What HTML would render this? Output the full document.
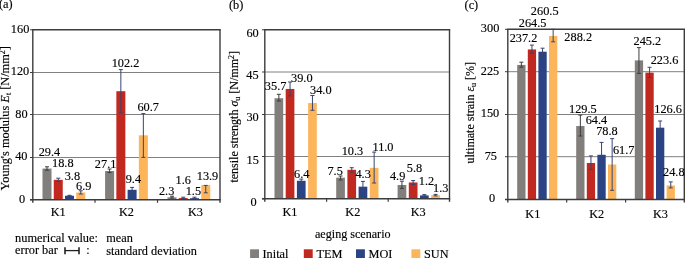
<!DOCTYPE html>
<html><head><meta charset="utf-8"><style>
html,body{margin:0;padding:0;background:#fff;}
svg{display:block;}
text{font-family:"Liberation Serif",serif;fill:#000;stroke:#000;stroke-width:0.15px;}
</style></head><body>
<svg width="685" height="258" viewBox="0 0 685 258" style="will-change:transform">
<line x1="32.8" y1="157.5" x2="220.0" y2="157.5" stroke="#808080" stroke-width="1.0"/>
<line x1="32.8" y1="114.5" x2="220.0" y2="114.5" stroke="#808080" stroke-width="1.0"/>
<line x1="32.8" y1="72.5" x2="220.0" y2="72.5" stroke="#808080" stroke-width="1.0"/>
<rect x="42.5" y="168.56" width="9.0" height="31.24" fill="#827e7b"/>
<rect x="53.75" y="179.83" width="9.0" height="19.97" fill="#c1281f"/>
<rect x="65.0" y="195.76" width="9.0" height="4.04" fill="#2a4384"/>
<rect x="76.25" y="192.47" width="9.0" height="7.33" fill="#fdb55b"/>
<rect x="105.1" y="171.01" width="9.0" height="28.79" fill="#827e7b"/>
<rect x="116.35" y="91.21" width="9.0" height="108.59" fill="#c1281f"/>
<rect x="127.6" y="189.81" width="9.0" height="9.99" fill="#2a4384"/>
<rect x="138.85" y="135.31" width="9.0" height="64.49" fill="#fdb55b"/>
<rect x="167.5" y="197.36" width="9.0" height="2.44" fill="#827e7b"/>
<rect x="178.75" y="198.10" width="9.0" height="1.70" fill="#c1281f"/>
<rect x="190.0" y="198.21" width="9.0" height="1.59" fill="#2a4384"/>
<rect x="201.25" y="185.03" width="9.0" height="14.77" fill="#fdb55b"/>
<line x1="47.0" y1="166.8" x2="47.0" y2="170.2" stroke="#3e3e3e" stroke-width="1.0"/>
<line x1="45.0" y1="166.8" x2="49.0" y2="166.8" stroke="#3e3e3e" stroke-width="1.0"/>
<line x1="45.0" y1="170.2" x2="49.0" y2="170.2" stroke="#3e3e3e" stroke-width="1.0"/>
<line x1="58.25" y1="178.2" x2="58.25" y2="181.4" stroke="#3a4470" stroke-width="1.0"/>
<line x1="56.25" y1="178.2" x2="60.25" y2="178.2" stroke="#3a4470" stroke-width="1.0"/>
<line x1="56.25" y1="181.4" x2="60.25" y2="181.4" stroke="#3a4470" stroke-width="1.0"/>
<line x1="69.5" y1="195.3" x2="69.5" y2="196.0" stroke="#3a4470" stroke-width="1.0"/>
<line x1="67.5" y1="195.3" x2="71.5" y2="195.3" stroke="#3a4470" stroke-width="1.0"/>
<line x1="67.5" y1="196.0" x2="71.5" y2="196.0" stroke="#3a4470" stroke-width="1.0"/>
<line x1="80.75" y1="190.8" x2="80.75" y2="194.0" stroke="#3a4470" stroke-width="1.0"/>
<line x1="78.75" y1="190.8" x2="82.75" y2="190.8" stroke="#3a4470" stroke-width="1.0"/>
<line x1="78.75" y1="194.0" x2="82.75" y2="194.0" stroke="#3a4470" stroke-width="1.0"/>
<line x1="109.6" y1="169.0" x2="109.6" y2="172.6" stroke="#3e3e3e" stroke-width="1.0"/>
<line x1="107.6" y1="169.0" x2="111.6" y2="169.0" stroke="#3e3e3e" stroke-width="1.0"/>
<line x1="107.6" y1="172.6" x2="111.6" y2="172.6" stroke="#3e3e3e" stroke-width="1.0"/>
<line x1="120.85" y1="69.6" x2="120.85" y2="113.0" stroke="#3a4470" stroke-width="1.0"/>
<line x1="118.85" y1="69.6" x2="122.85" y2="69.6" stroke="#3a4470" stroke-width="1.0"/>
<line x1="118.85" y1="113.0" x2="122.85" y2="113.0" stroke="#3a4470" stroke-width="1.0"/>
<line x1="132.1" y1="187.4" x2="132.1" y2="192.6" stroke="#3a4470" stroke-width="1.0"/>
<line x1="130.1" y1="187.4" x2="134.1" y2="187.4" stroke="#3a4470" stroke-width="1.0"/>
<line x1="130.1" y1="192.6" x2="134.1" y2="192.6" stroke="#3a4470" stroke-width="1.0"/>
<line x1="143.35" y1="113.6" x2="143.35" y2="157.4" stroke="#3a4470" stroke-width="1.0"/>
<line x1="141.35" y1="113.6" x2="145.35" y2="113.6" stroke="#3a4470" stroke-width="1.0"/>
<line x1="141.35" y1="157.4" x2="145.35" y2="157.4" stroke="#3a4470" stroke-width="1.0"/>
<line x1="172.0" y1="196.2" x2="172.0" y2="198.0" stroke="#3e3e3e" stroke-width="1.0"/>
<line x1="170.0" y1="196.2" x2="174.0" y2="196.2" stroke="#3e3e3e" stroke-width="1.0"/>
<line x1="170.0" y1="198.0" x2="174.0" y2="198.0" stroke="#3e3e3e" stroke-width="1.0"/>
<line x1="183.25" y1="197.2" x2="183.25" y2="198.4" stroke="#3a4470" stroke-width="1.0"/>
<line x1="181.25" y1="197.2" x2="185.25" y2="197.2" stroke="#3a4470" stroke-width="1.0"/>
<line x1="181.25" y1="198.4" x2="185.25" y2="198.4" stroke="#3a4470" stroke-width="1.0"/>
<line x1="194.5" y1="197.2" x2="194.5" y2="198.4" stroke="#3a4470" stroke-width="1.0"/>
<line x1="192.5" y1="197.2" x2="196.5" y2="197.2" stroke="#3a4470" stroke-width="1.0"/>
<line x1="192.5" y1="198.4" x2="196.5" y2="198.4" stroke="#3a4470" stroke-width="1.0"/>
<line x1="205.75" y1="185.4" x2="205.75" y2="192.8" stroke="#3a4470" stroke-width="1.0"/>
<line x1="203.75" y1="185.4" x2="207.75" y2="185.4" stroke="#3a4470" stroke-width="1.0"/>
<line x1="203.75" y1="192.8" x2="207.75" y2="192.8" stroke="#3a4470" stroke-width="1.0"/>
<line x1="32.099999999999994" y1="29.8" x2="220.7" y2="29.8" stroke="#3c3c3c" stroke-width="1.4"/>
<line x1="32.8" y1="29.8" x2="32.8" y2="202.8" stroke="#3c3c3c" stroke-width="1.4"/>
<line x1="220.0" y1="29.8" x2="220.0" y2="202.8" stroke="#3c3c3c" stroke-width="1.4"/>
<line x1="29.999999999999996" y1="199.8" x2="220.7" y2="199.8" stroke="#3c3c3c" stroke-width="1.4"/>
<line x1="29.999999999999996" y1="199.8" x2="32.8" y2="199.8" stroke="#3c3c3c" stroke-width="1.0"/>
<line x1="29.999999999999996" y1="157.5" x2="32.8" y2="157.5" stroke="#3c3c3c" stroke-width="1.0"/>
<line x1="29.999999999999996" y1="114.5" x2="32.8" y2="114.5" stroke="#3c3c3c" stroke-width="1.0"/>
<line x1="29.999999999999996" y1="72.5" x2="32.8" y2="72.5" stroke="#3c3c3c" stroke-width="1.0"/>
<line x1="29.999999999999996" y1="29.8" x2="32.8" y2="29.8" stroke="#3c3c3c" stroke-width="1.0"/>
<line x1="95.0" y1="199.8" x2="95.0" y2="202.8" stroke="#3c3c3c" stroke-width="1.2"/>
<line x1="157.5" y1="199.8" x2="157.5" y2="202.8" stroke="#3c3c3c" stroke-width="1.2"/>
<line x1="264.8" y1="156.5" x2="449.5" y2="156.5" stroke="#808080" stroke-width="1.0"/>
<line x1="264.8" y1="114.5" x2="449.5" y2="114.5" stroke="#808080" stroke-width="1.0"/>
<line x1="264.8" y1="72.0" x2="449.5" y2="72.0" stroke="#808080" stroke-width="1.0"/>
<rect x="274.5" y="98.24" width="8.7" height="100.56" fill="#827e7b"/>
<rect x="285.7" y="88.95" width="8.7" height="109.85" fill="#c1281f"/>
<rect x="296.9" y="180.77" width="8.7" height="18.03" fill="#2a4384"/>
<rect x="308.1" y="103.03" width="8.7" height="95.77" fill="#fdb55b"/>
<rect x="336.2" y="177.68" width="8.7" height="21.12" fill="#827e7b"/>
<rect x="347.4" y="169.79" width="8.7" height="29.01" fill="#c1281f"/>
<rect x="358.6" y="186.69" width="8.7" height="12.11" fill="#2a4384"/>
<rect x="369.8" y="167.82" width="8.7" height="30.98" fill="#fdb55b"/>
<rect x="397.6" y="185.00" width="8.7" height="13.80" fill="#827e7b"/>
<rect x="408.8" y="182.46" width="8.7" height="16.34" fill="#c1281f"/>
<rect x="420.0" y="195.42" width="8.7" height="3.38" fill="#2a4384"/>
<rect x="431.2" y="195.14" width="8.7" height="3.66" fill="#fdb55b"/>
<line x1="278.85" y1="94.3" x2="278.85" y2="101.0" stroke="#3e3e3e" stroke-width="1.0"/>
<line x1="276.85" y1="94.3" x2="280.85" y2="94.3" stroke="#3e3e3e" stroke-width="1.0"/>
<line x1="276.85" y1="101.0" x2="280.85" y2="101.0" stroke="#3e3e3e" stroke-width="1.0"/>
<line x1="290.05" y1="82.0" x2="290.05" y2="95.8" stroke="#3a4470" stroke-width="1.0"/>
<line x1="288.05" y1="82.0" x2="292.05" y2="82.0" stroke="#3a4470" stroke-width="1.0"/>
<line x1="288.05" y1="95.8" x2="292.05" y2="95.8" stroke="#3a4470" stroke-width="1.0"/>
<line x1="301.25" y1="179.1" x2="301.25" y2="182.5" stroke="#3a4470" stroke-width="1.0"/>
<line x1="299.25" y1="179.1" x2="303.25" y2="179.1" stroke="#3a4470" stroke-width="1.0"/>
<line x1="299.25" y1="182.5" x2="303.25" y2="182.5" stroke="#3a4470" stroke-width="1.0"/>
<line x1="312.45" y1="95.5" x2="312.45" y2="110.3" stroke="#3a4470" stroke-width="1.0"/>
<line x1="310.45" y1="95.5" x2="314.45" y2="95.5" stroke="#3a4470" stroke-width="1.0"/>
<line x1="310.45" y1="110.3" x2="314.45" y2="110.3" stroke="#3a4470" stroke-width="1.0"/>
<line x1="340.55" y1="176.0" x2="340.55" y2="180.0" stroke="#3e3e3e" stroke-width="1.0"/>
<line x1="338.55" y1="176.0" x2="342.55" y2="176.0" stroke="#3e3e3e" stroke-width="1.0"/>
<line x1="338.55" y1="180.0" x2="342.55" y2="180.0" stroke="#3e3e3e" stroke-width="1.0"/>
<line x1="351.75" y1="167.7" x2="351.75" y2="172.1" stroke="#3a4470" stroke-width="1.0"/>
<line x1="349.75" y1="167.7" x2="353.75" y2="167.7" stroke="#3a4470" stroke-width="1.0"/>
<line x1="349.75" y1="172.1" x2="353.75" y2="172.1" stroke="#3a4470" stroke-width="1.0"/>
<line x1="362.95" y1="181.4" x2="362.95" y2="191.6" stroke="#3a4470" stroke-width="1.0"/>
<line x1="360.95" y1="181.4" x2="364.95" y2="181.4" stroke="#3a4470" stroke-width="1.0"/>
<line x1="360.95" y1="191.6" x2="364.95" y2="191.6" stroke="#3a4470" stroke-width="1.0"/>
<line x1="374.15" y1="152.1" x2="374.15" y2="183.0" stroke="#3a4470" stroke-width="1.0"/>
<line x1="372.15" y1="152.1" x2="376.15" y2="152.1" stroke="#3a4470" stroke-width="1.0"/>
<line x1="372.15" y1="183.0" x2="376.15" y2="183.0" stroke="#3a4470" stroke-width="1.0"/>
<line x1="401.95" y1="181.2" x2="401.95" y2="188.4" stroke="#3e3e3e" stroke-width="1.0"/>
<line x1="399.95" y1="181.2" x2="403.95" y2="181.2" stroke="#3e3e3e" stroke-width="1.0"/>
<line x1="399.95" y1="188.4" x2="403.95" y2="188.4" stroke="#3e3e3e" stroke-width="1.0"/>
<line x1="413.15" y1="180.6" x2="413.15" y2="184.5" stroke="#3a4470" stroke-width="1.0"/>
<line x1="411.15" y1="180.6" x2="415.15" y2="180.6" stroke="#3a4470" stroke-width="1.0"/>
<line x1="411.15" y1="184.5" x2="415.15" y2="184.5" stroke="#3a4470" stroke-width="1.0"/>
<line x1="424.35" y1="194.6" x2="424.35" y2="196.0" stroke="#3a4470" stroke-width="1.0"/>
<line x1="422.35" y1="194.6" x2="426.35" y2="194.6" stroke="#3a4470" stroke-width="1.0"/>
<line x1="422.35" y1="196.0" x2="426.35" y2="196.0" stroke="#3a4470" stroke-width="1.0"/>
<line x1="435.55" y1="194.4" x2="435.55" y2="195.9" stroke="#3a4470" stroke-width="1.0"/>
<line x1="433.55" y1="194.4" x2="437.55" y2="194.4" stroke="#3a4470" stroke-width="1.0"/>
<line x1="433.55" y1="195.9" x2="437.55" y2="195.9" stroke="#3a4470" stroke-width="1.0"/>
<line x1="264.1" y1="29.8" x2="450.2" y2="29.8" stroke="#3c3c3c" stroke-width="1.4"/>
<line x1="264.8" y1="29.8" x2="264.8" y2="201.8" stroke="#3c3c3c" stroke-width="1.4"/>
<line x1="449.5" y1="29.8" x2="449.5" y2="201.8" stroke="#3c3c3c" stroke-width="1.4"/>
<line x1="262.0" y1="198.8" x2="450.2" y2="198.8" stroke="#3c3c3c" stroke-width="1.4"/>
<line x1="262.0" y1="198.8" x2="264.8" y2="198.8" stroke="#3c3c3c" stroke-width="1.0"/>
<line x1="262.0" y1="156.5" x2="264.8" y2="156.5" stroke="#3c3c3c" stroke-width="1.0"/>
<line x1="262.0" y1="114.5" x2="264.8" y2="114.5" stroke="#3c3c3c" stroke-width="1.0"/>
<line x1="262.0" y1="72.0" x2="264.8" y2="72.0" stroke="#3c3c3c" stroke-width="1.0"/>
<line x1="262.0" y1="29.8" x2="264.8" y2="29.8" stroke="#3c3c3c" stroke-width="1.0"/>
<line x1="326.6" y1="198.8" x2="326.6" y2="201.8" stroke="#3c3c3c" stroke-width="1.2"/>
<line x1="388.2" y1="198.8" x2="388.2" y2="201.8" stroke="#3c3c3c" stroke-width="1.2"/>
<line x1="507.8" y1="156.7" x2="684.3" y2="156.7" stroke="#808080" stroke-width="1.0"/>
<line x1="507.8" y1="114.5" x2="684.3" y2="114.5" stroke="#808080" stroke-width="1.0"/>
<line x1="507.8" y1="71.7" x2="684.3" y2="71.7" stroke="#808080" stroke-width="1.0"/>
<rect x="517.2" y="64.93" width="8.3" height="134.57" fill="#827e7b"/>
<rect x="527.8" y="49.44" width="8.3" height="150.06" fill="#c1281f"/>
<rect x="538.4" y="51.71" width="8.3" height="147.79" fill="#2a4384"/>
<rect x="549.0" y="35.99" width="8.3" height="163.51" fill="#fdb55b"/>
<rect x="576.2" y="126.03" width="8.3" height="73.47" fill="#827e7b"/>
<rect x="586.8" y="162.96" width="8.3" height="36.54" fill="#c1281f"/>
<rect x="597.4" y="154.79" width="8.3" height="44.71" fill="#2a4384"/>
<rect x="608.0" y="164.50" width="8.3" height="35.00" fill="#fdb55b"/>
<rect x="634.8" y="60.39" width="8.3" height="139.11" fill="#827e7b"/>
<rect x="645.4" y="72.64" width="8.3" height="126.86" fill="#c1281f"/>
<rect x="656.0" y="127.68" width="8.3" height="71.82" fill="#2a4384"/>
<rect x="666.6" y="185.43" width="8.3" height="14.07" fill="#fdb55b"/>
<line x1="521.35" y1="62.2" x2="521.35" y2="67.2" stroke="#3e3e3e" stroke-width="1.0"/>
<line x1="519.35" y1="62.2" x2="523.35" y2="62.2" stroke="#3e3e3e" stroke-width="1.0"/>
<line x1="519.35" y1="67.2" x2="523.35" y2="67.2" stroke="#3e3e3e" stroke-width="1.0"/>
<line x1="531.95" y1="45.1" x2="531.95" y2="53.1" stroke="#3a4470" stroke-width="1.0"/>
<line x1="529.95" y1="45.1" x2="533.95" y2="45.1" stroke="#3a4470" stroke-width="1.0"/>
<line x1="529.95" y1="53.1" x2="533.95" y2="53.1" stroke="#3a4470" stroke-width="1.0"/>
<line x1="542.55" y1="48.2" x2="542.55" y2="56.6" stroke="#3a4470" stroke-width="1.0"/>
<line x1="540.55" y1="48.2" x2="544.55" y2="48.2" stroke="#3a4470" stroke-width="1.0"/>
<line x1="540.55" y1="56.6" x2="544.55" y2="56.6" stroke="#3a4470" stroke-width="1.0"/>
<line x1="553.15" y1="29.3" x2="553.15" y2="41.8" stroke="#3a4470" stroke-width="1.0"/>
<line x1="551.15" y1="29.3" x2="555.15" y2="29.3" stroke="#3a4470" stroke-width="1.0"/>
<line x1="551.15" y1="41.8" x2="555.15" y2="41.8" stroke="#3a4470" stroke-width="1.0"/>
<line x1="580.35" y1="115.1" x2="580.35" y2="136.0" stroke="#3e3e3e" stroke-width="1.0"/>
<line x1="578.35" y1="115.1" x2="582.35" y2="115.1" stroke="#3e3e3e" stroke-width="1.0"/>
<line x1="578.35" y1="136.0" x2="582.35" y2="136.0" stroke="#3e3e3e" stroke-width="1.0"/>
<line x1="590.95" y1="155.9" x2="590.95" y2="169.4" stroke="#3a4470" stroke-width="1.0"/>
<line x1="588.95" y1="155.9" x2="592.95" y2="155.9" stroke="#3a4470" stroke-width="1.0"/>
<line x1="588.95" y1="169.4" x2="592.95" y2="169.4" stroke="#3a4470" stroke-width="1.0"/>
<line x1="601.55" y1="142.4" x2="601.55" y2="180.4" stroke="#3a4470" stroke-width="1.0"/>
<line x1="599.55" y1="142.4" x2="603.55" y2="142.4" stroke="#3a4470" stroke-width="1.0"/>
<line x1="599.55" y1="180.4" x2="603.55" y2="180.4" stroke="#3a4470" stroke-width="1.0"/>
<line x1="612.15" y1="138.6" x2="612.15" y2="190.3" stroke="#3a4470" stroke-width="1.0"/>
<line x1="610.15" y1="138.6" x2="614.15" y2="138.6" stroke="#3a4470" stroke-width="1.0"/>
<line x1="610.15" y1="190.3" x2="614.15" y2="190.3" stroke="#3a4470" stroke-width="1.0"/>
<line x1="638.95" y1="47.6" x2="638.95" y2="73.4" stroke="#3e3e3e" stroke-width="1.0"/>
<line x1="636.95" y1="47.6" x2="640.95" y2="47.6" stroke="#3e3e3e" stroke-width="1.0"/>
<line x1="636.95" y1="73.4" x2="640.95" y2="73.4" stroke="#3e3e3e" stroke-width="1.0"/>
<line x1="649.55" y1="67.3" x2="649.55" y2="77.5" stroke="#3a4470" stroke-width="1.0"/>
<line x1="647.55" y1="67.3" x2="651.55" y2="67.3" stroke="#3a4470" stroke-width="1.0"/>
<line x1="647.55" y1="77.5" x2="651.55" y2="77.5" stroke="#3a4470" stroke-width="1.0"/>
<line x1="660.15" y1="121.0" x2="660.15" y2="134.2" stroke="#3a4470" stroke-width="1.0"/>
<line x1="658.15" y1="121.0" x2="662.15" y2="121.0" stroke="#3a4470" stroke-width="1.0"/>
<line x1="658.15" y1="134.2" x2="662.15" y2="134.2" stroke="#3a4470" stroke-width="1.0"/>
<line x1="670.75" y1="181.9" x2="670.75" y2="187.9" stroke="#3a4470" stroke-width="1.0"/>
<line x1="668.75" y1="181.9" x2="672.75" y2="181.9" stroke="#3a4470" stroke-width="1.0"/>
<line x1="668.75" y1="187.9" x2="672.75" y2="187.9" stroke="#3a4470" stroke-width="1.0"/>
<line x1="507.1" y1="29.3" x2="685.0" y2="29.3" stroke="#3c3c3c" stroke-width="1.4"/>
<line x1="507.8" y1="29.3" x2="507.8" y2="202.5" stroke="#3c3c3c" stroke-width="1.4"/>
<line x1="684.3" y1="29.3" x2="684.3" y2="202.5" stroke="#3c3c3c" stroke-width="1.4"/>
<line x1="505.0" y1="199.5" x2="685.0" y2="199.5" stroke="#3c3c3c" stroke-width="1.4"/>
<line x1="505.0" y1="199.5" x2="507.8" y2="199.5" stroke="#3c3c3c" stroke-width="1.0"/>
<line x1="505.0" y1="156.7" x2="507.8" y2="156.7" stroke="#3c3c3c" stroke-width="1.0"/>
<line x1="505.0" y1="114.5" x2="507.8" y2="114.5" stroke="#3c3c3c" stroke-width="1.0"/>
<line x1="505.0" y1="71.7" x2="507.8" y2="71.7" stroke="#3c3c3c" stroke-width="1.0"/>
<line x1="505.0" y1="29.3" x2="507.8" y2="29.3" stroke="#3c3c3c" stroke-width="1.0"/>
<line x1="566.7" y1="199.5" x2="566.7" y2="202.5" stroke="#3c3c3c" stroke-width="1.2"/>
<line x1="625.6" y1="199.5" x2="625.6" y2="202.5" stroke="#3c3c3c" stroke-width="1.2"/>
<text x="5.7" y="8.4" font-size="12.3" text-anchor="middle" >(a)</text>
<text x="20.1" y="33.0" font-size="12.3" text-anchor="middle" >160</text>
<text x="20.0" y="75.3" font-size="12.3" text-anchor="middle" >120</text>
<text x="21.5" y="117.7" font-size="12.3" text-anchor="middle" >80</text>
<text x="21.3" y="160.2" font-size="12.3" text-anchor="middle" >40</text>
<text x="22.2" y="202.7" font-size="12.3" text-anchor="middle" >0</text>
<text x="49.4" y="155.5" font-size="12.3" text-anchor="middle" >29.4</text>
<text x="62.8" y="167.0" font-size="12.3" text-anchor="middle" >18.8</text>
<text x="72.4" y="179.7" font-size="12.3" text-anchor="middle" >3.8</text>
<text x="83.7" y="189.5" font-size="12.3" text-anchor="middle" >6.9</text>
<text x="105.6" y="167.9" font-size="12.3" text-anchor="middle" >27.1</text>
<text x="125.5" y="66.9" font-size="12.3" text-anchor="middle" >102.2</text>
<text x="133.4" y="183.3" font-size="12.3" text-anchor="middle" >9.4</text>
<text x="148.2" y="111.2" font-size="12.3" text-anchor="middle" >60.7</text>
<text x="166.6" y="194.9" font-size="12.3" text-anchor="middle" >2.3</text>
<text x="183.3" y="184.0" font-size="12.3" text-anchor="middle" >1.6</text>
<text x="193.4" y="194.9" font-size="12.3" text-anchor="middle" >1.5</text>
<text x="207.5" y="180.0" font-size="12.3" text-anchor="middle" >13.9</text>
<text x="58.2" y="216.3" font-size="12.3" text-anchor="middle" >K1</text>
<text x="126.5" y="216.3" font-size="12.3" text-anchor="middle" >K2</text>
<text x="195.5" y="216.3" font-size="12.3" text-anchor="middle" >K3</text>
<text x="236.1" y="8.6" font-size="12.3" text-anchor="middle" >(b)</text>
<text x="252.6" y="36.7" font-size="12.3" text-anchor="middle" >60</text>
<text x="252.5" y="78.7" font-size="12.3" text-anchor="middle" >45</text>
<text x="252.6" y="120.9" font-size="12.3" text-anchor="middle" >30</text>
<text x="252.7" y="163.6" font-size="12.3" text-anchor="middle" >15</text>
<text x="253.6" y="205.7" font-size="12.3" text-anchor="middle" >0</text>
<text x="275.6" y="90.2" font-size="12.3" text-anchor="middle" >35.7</text>
<text x="301.8" y="81.6" font-size="12.3" text-anchor="middle" >39.0</text>
<text x="301.7" y="178.1" font-size="12.3" text-anchor="middle" >6.4</text>
<text x="320.8" y="93.9" font-size="12.3" text-anchor="middle" >34.0</text>
<text x="335.1" y="175.3" font-size="12.3" text-anchor="middle" >7.5</text>
<text x="352.4" y="154.7" font-size="12.3" text-anchor="middle" >10.3</text>
<text x="363.1" y="177.9" font-size="12.3" text-anchor="middle" >4.3</text>
<text x="383.0" y="150.5" font-size="12.3" text-anchor="middle" >11.0</text>
<text x="397.6" y="180.2" font-size="12.3" text-anchor="middle" >4.9</text>
<text x="414.5" y="171.5" font-size="12.3" text-anchor="middle" >5.8</text>
<text x="426.5" y="185.4" font-size="12.3" text-anchor="middle" >1.2</text>
<text x="440.8" y="191.8" font-size="12.3" text-anchor="middle" >1.3</text>
<text x="290.0" y="215.5" font-size="12.3" text-anchor="middle" >K1</text>
<text x="352.8" y="215.5" font-size="12.3" text-anchor="middle" >K2</text>
<text x="418.2" y="215.5" font-size="12.3" text-anchor="middle" >K3</text>
<text x="471.4" y="8.9" font-size="12.3" text-anchor="middle" >(c)</text>
<text x="490.1" y="32.1" font-size="12.3" text-anchor="middle" >300</text>
<text x="490.0" y="74.5" font-size="12.3" text-anchor="middle" >225</text>
<text x="490.0" y="117.2" font-size="12.3" text-anchor="middle" >150</text>
<text x="490.8" y="159.9" font-size="12.3" text-anchor="middle" >75</text>
<text x="492.0" y="201.9" font-size="12.3" text-anchor="middle" >0</text>
<text x="523.5" y="41.8" font-size="12.3" text-anchor="middle" >237.2</text>
<text x="532.6" y="26.6" font-size="12.3" text-anchor="middle" >264.5</text>
<text x="544.7" y="14.6" font-size="12.3" text-anchor="middle" >260.5</text>
<text x="578.2" y="40.8" font-size="12.3" text-anchor="middle" >288.2</text>
<text x="582.9" y="112.8" font-size="12.3" text-anchor="middle" >129.5</text>
<text x="596.4" y="124.4" font-size="12.3" text-anchor="middle" >64.4</text>
<text x="606.9" y="134.9" font-size="12.3" text-anchor="middle" >78.8</text>
<text x="623.7" y="153.5" font-size="12.3" text-anchor="middle" >61.7</text>
<text x="647.4" y="44.9" font-size="12.3" text-anchor="middle" >245.2</text>
<text x="664.5" y="64.0" font-size="12.3" text-anchor="middle" >223.6</text>
<text x="668.1" y="113.4" font-size="12.3" text-anchor="middle" >126.6</text>
<text x="673.8" y="176.0" font-size="12.3" text-anchor="middle" >24.8</text>
<text x="532.8" y="217.5" font-size="12.3" text-anchor="middle" >K1</text>
<text x="596.7" y="217.5" font-size="12.3" text-anchor="middle" >K2</text>
<text x="660.5" y="217.5" font-size="12.3" text-anchor="middle" >K3</text>
<text transform="translate(8.8,190.4) rotate(-90)" x="0" y="0" font-size="12.3">Young's modulus <tspan font-style='italic'>E</tspan><tspan font-size='8' dy='2'>t</tspan><tspan dy='-2'> [N/mm</tspan><tspan font-size='8' dy='-4'>2</tspan><tspan dy='4'>]</tspan></text>
<text transform="translate(238.3,182.6) rotate(-90)" x="0" y="0" font-size="12">tensile strength <tspan font-style='italic'>σ</tspan><tspan font-size='8' dy='2'>u</tspan><tspan dy='-2'> [N/mm</tspan><tspan font-size='8' dy='-4'>2</tspan><tspan dy='4'>]</tspan></text>
<text transform="translate(474.0,163.6) rotate(-90)" x="0" y="0" font-size="12">ultimate strain <tspan font-style='italic'>ε</tspan><tspan font-size='8' dy='2'>u</tspan><tspan dy='-2'> [%]</tspan></text>
<text x="15.1" y="241.9" font-size="12.4" text-anchor="start" >numerical value:</text>
<text x="106.3" y="241.6" font-size="12.3" text-anchor="start" >mean</text>
<text x="15.1" y="254.2" font-size="12.3" text-anchor="start" >error bar</text>
<line x1="65.0" y1="247.2" x2="65.0" y2="254.2" stroke="#222" stroke-width="1.6"/>
<line x1="79.0" y1="247.2" x2="79.0" y2="254.2" stroke="#222" stroke-width="1.6"/>
<line x1="65.0" y1="250.6" x2="79.0" y2="250.6" stroke="#222" stroke-width="1.3"/>
<text x="88.0" y="254.2" font-size="12.3" text-anchor="middle" >:</text>
<text x="106.3" y="254.6" font-size="12.3" text-anchor="start" >standard deviation</text>
<text x="315.0" y="238.1" font-size="12.1" text-anchor="start" >aeging scenario</text>
<rect x="250.1" y="249.30" width="8.9" height="9.00" fill="#827e7b"/>
<text x="262.5" y="257.6" font-size="12.3" text-anchor="start" >Inital</text>
<rect x="303.8" y="249.30" width="8.9" height="9.00" fill="#c1281f"/>
<text x="316.4" y="257.6" font-size="12.3" text-anchor="start" >TEM</text>
<rect x="356.0" y="249.30" width="8.9" height="9.00" fill="#2a4384"/>
<text x="368.5" y="257.6" font-size="12.3" text-anchor="start" >MOI</text>
<rect x="411.4" y="249.30" width="8.9" height="9.00" fill="#fdb55b"/>
<text x="424.0" y="257.6" font-size="12.3" text-anchor="start" >SUN</text>
</svg>
</body></html>
